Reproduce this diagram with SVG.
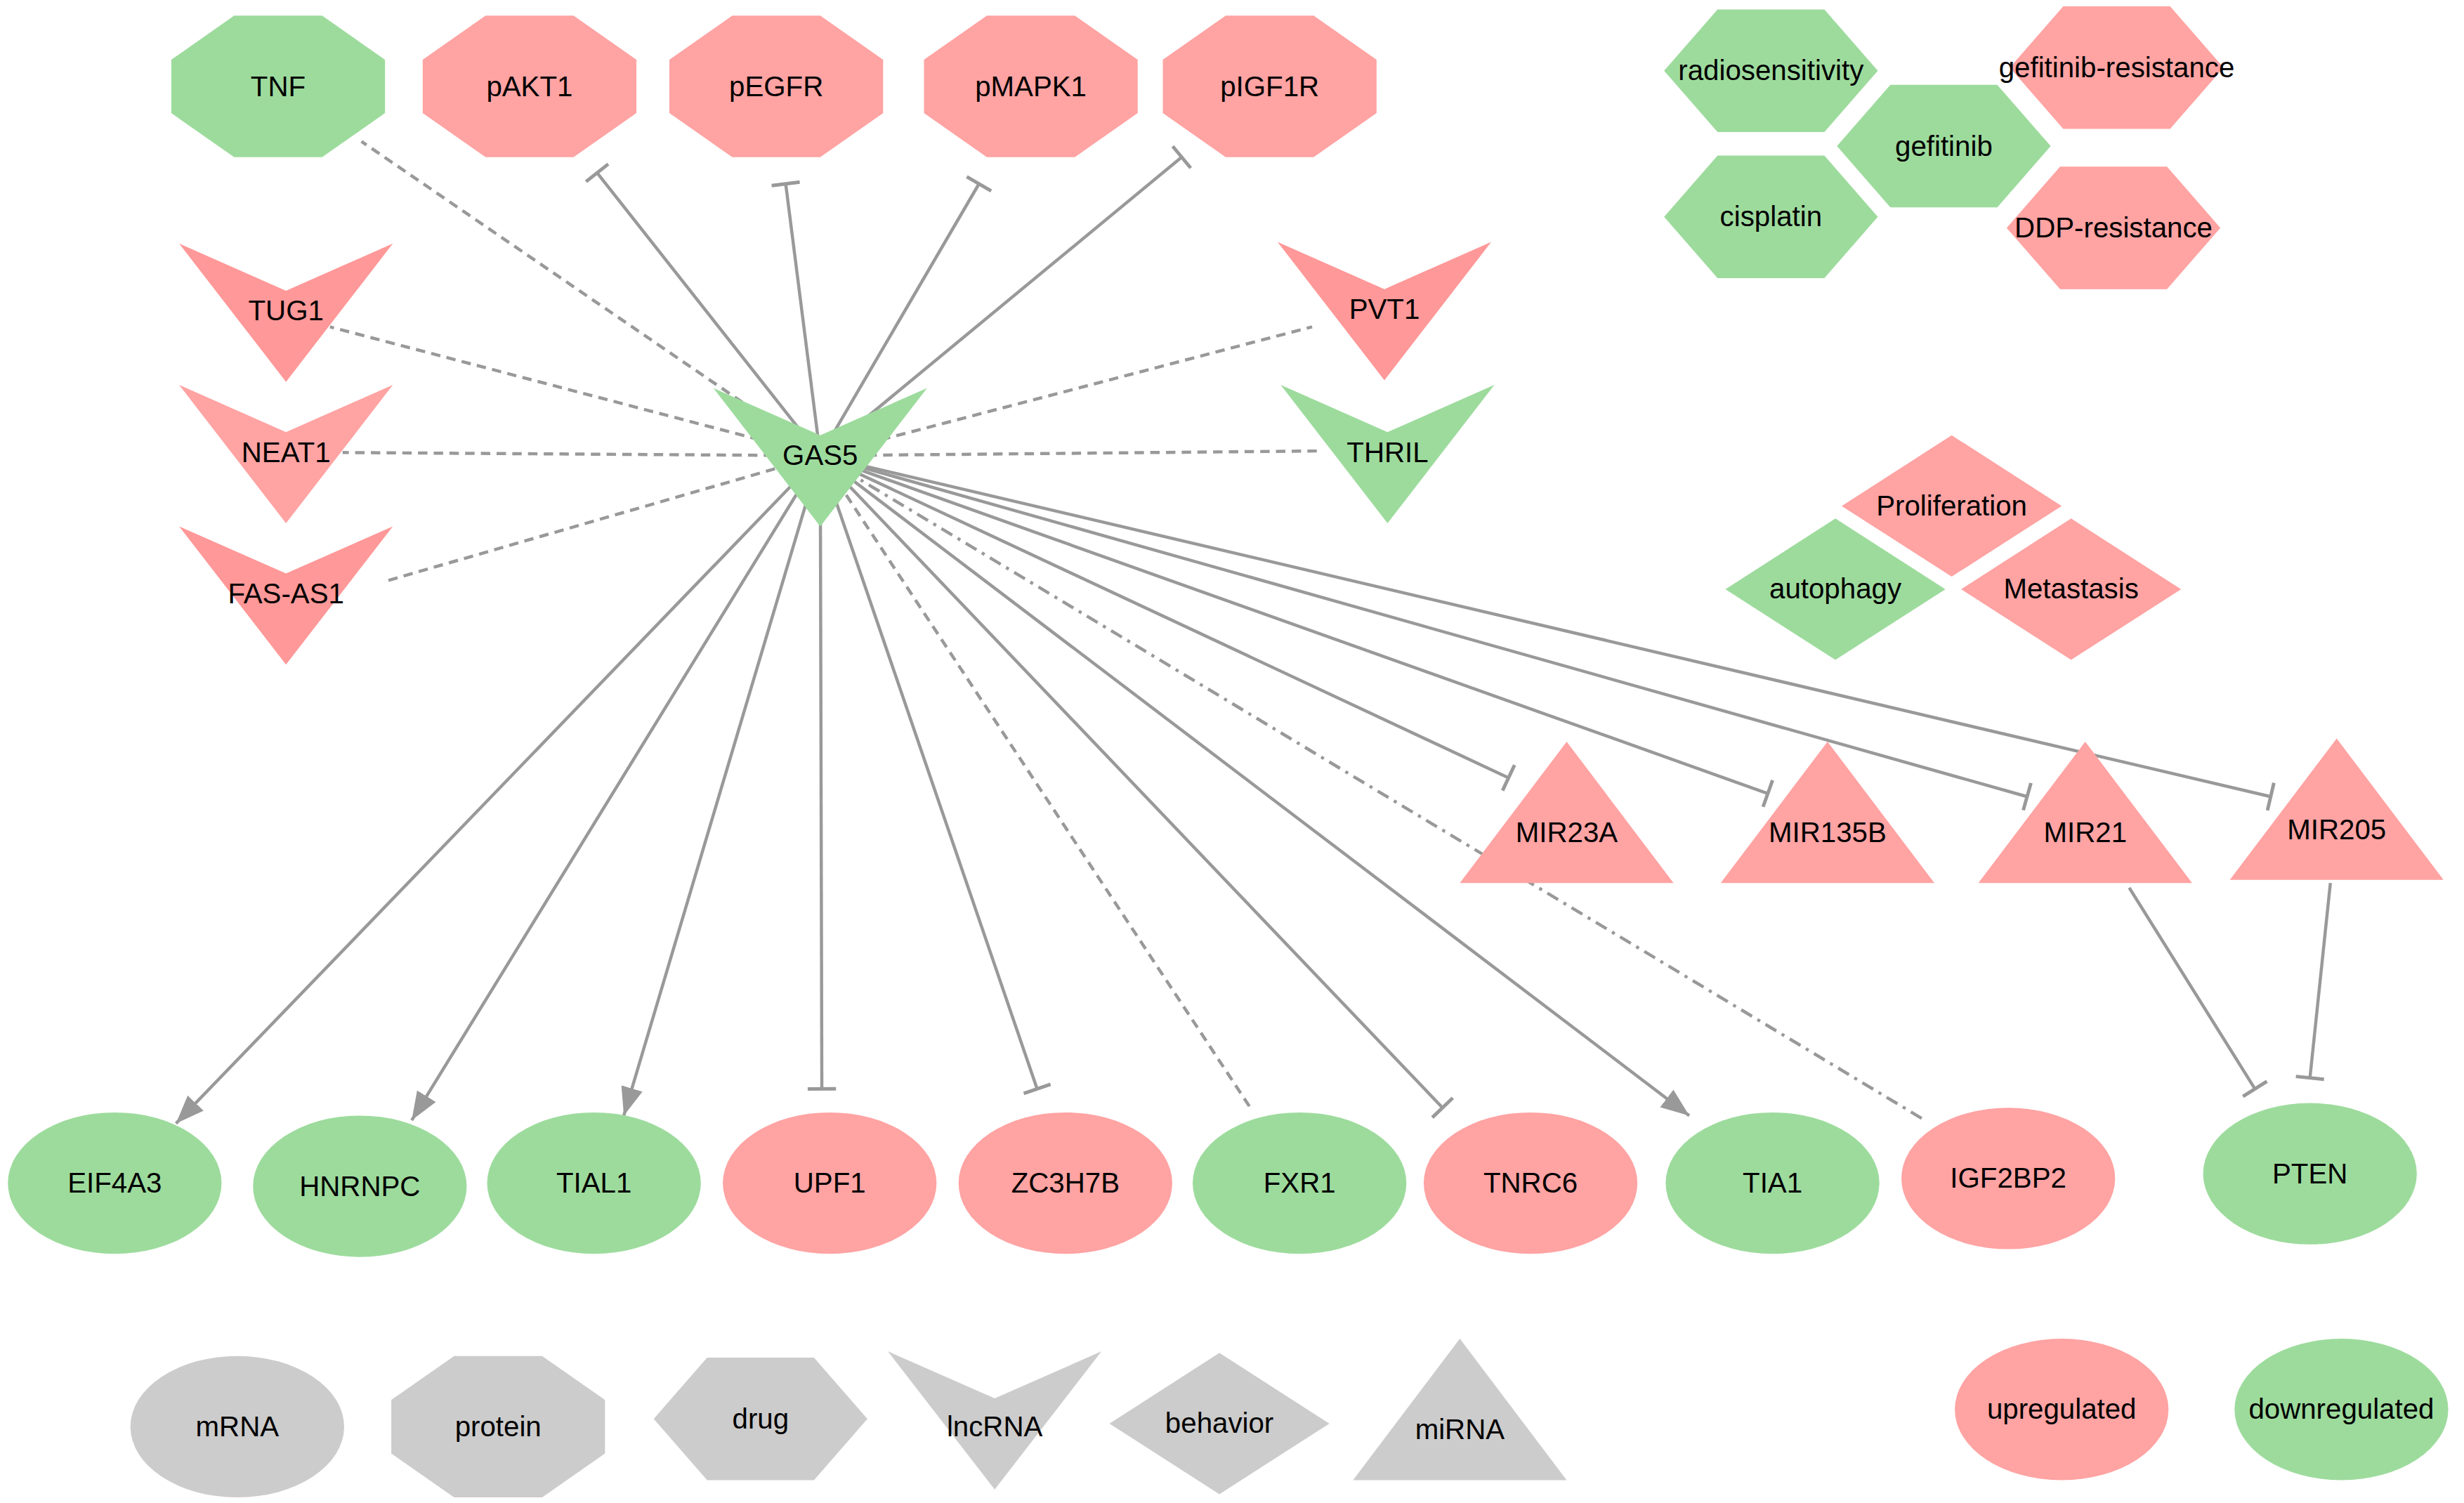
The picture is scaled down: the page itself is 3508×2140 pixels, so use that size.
<svg xmlns="http://www.w3.org/2000/svg" width="3508" height="2140" viewBox="0 0 3508 2140">
<defs>
<style>
.g{fill:#9ddb9d}.p{fill:#ffa3a3}.p2{fill:#ff9898}.k{fill:#cccccc}
text{font-family:"Liberation Sans",Arial,sans-serif;font-size:18px;text-anchor:middle;dominant-baseline:central;fill:#000}
.e{stroke:#999;stroke-width:2;fill:none}
.d{stroke-dasharray:6,4}
.dd{stroke-dasharray:8,4,2,4}
</style>
<marker id="t" markerUnits="userSpaceOnUse" markerWidth="20" markerHeight="20" refX="2" refY="10" orient="auto" viewBox="0 0 20 20"><path d="M2,1 L2,19" stroke="#999" stroke-width="2.2"/></marker>
<marker id="a" markerUnits="userSpaceOnUse" markerWidth="20" markerHeight="20" refX="18" refY="10" orient="auto" viewBox="0 0 20 20"><path d="M0,3 L18,10 L0,17 Z" fill="#999"/></marker>
<path id="oct" d="M-28,-45 L28,-45 L68,-17 L68,17 L28,45 L-28,45 L-68,17 L-68,-17 Z"/>
<path id="hex" d="M-34,-39 L34,-39 L68,0 L34,39 L-34,39 L-68,0 Z"/>
<path id="vee" d="M-68,-43 L0,-13 L68,-43 L0,45 Z"/>
<path id="dia" d="M0,-45 L70,0 L0,45 L-70,0 Z"/>
<path id="tri" d="M0,-45 L68,45 L-68,45 Z"/>
</defs>
<rect width="3508" height="2140" fill="#fff"/>
<g transform="scale(2.2372)">
<g id="edges">
<path class="e d" d="M522,290 L230,90"/>
<path class="e" d="M522,290 L380,110" marker-end="url(#t)"/>
<path class="e" d="M522,290 L500,117" marker-end="url(#t)"/>
<path class="e" d="M522,290 L623,117" marker-end="url(#t)"/>
<path class="e" d="M522,290 L752,100" marker-end="url(#t)"/>
<path class="e d" d="M522,290 L210,208"/>
<path class="e d" d="M522,290 L218,288"/>
<path class="e d" d="M522,290 L245,370"/>
<path class="e d" d="M522,290 L835,208"/>
<path class="e d" d="M522,290 L840,287"/>
<path class="e" d="M522,290 L960,495" marker-end="url(#t)"/>
<path class="e" d="M522,290 L1125,505" marker-end="url(#t)"/>
<path class="e" d="M522,290 L1290,507" marker-end="url(#t)"/>
<path class="e" d="M522,290 L1445,507" marker-end="url(#t)"/>
<path class="e" d="M522,290 L112,715" marker-end="url(#a)"/>
<path class="e" d="M522,290 L262,713" marker-end="url(#a)"/>
<path class="e" d="M522,290 L397,710" marker-end="url(#a)"/>
<path class="e" d="M522,290 L523,693" marker-end="url(#t)"/>
<path class="e" d="M522,290 L660,693" marker-end="url(#t)"/>
<path class="e d" d="M522,290 L797,707"/>
<path class="e" d="M522,290 L918,705" marker-end="url(#t)"/>
<path class="e" d="M522,290 L1075,710" marker-end="url(#a)"/>
<path class="e dd" d="M522,290 L1225,713"/>
<path class="e" d="M1355,565 L1435,693" marker-end="url(#t)"/>
<path class="e" d="M1483,562 L1470,686" marker-end="url(#t)"/>
</g>
<g id="TNF"><use href="#oct" x="177" y="55" class="g"/><text x="177" y="55">TNF</text></g>
<g id="pAKT1"><use href="#oct" x="337" y="55" class="p"/><text x="337" y="55">pAKT1</text></g>
<g id="pEGFR"><use href="#oct" x="494" y="55" class="p"/><text x="494" y="55">pEGFR</text></g>
<g id="pMAPK1"><use href="#oct" x="656" y="55" class="p"/><text x="656" y="55">pMAPK1</text></g>
<g id="pIGF1R"><use href="#oct" x="808" y="55" class="p"/><text x="808" y="55">pIGF1R</text></g>
<g id="radiosensitivity"><use href="#hex" x="1127" y="45" class="g"/><text x="1127" y="45">radiosensitivity</text></g>
<g id="gefitinib-resistance"><use href="#hex" x="1347" y="43" class="p"/><text x="1347" y="43">gefitinib-resistance</text></g>
<g id="gefitinib"><use href="#hex" x="1237" y="93" class="g"/><text x="1237" y="93">gefitinib</text></g>
<g id="cisplatin"><use href="#hex" x="1127" y="138" class="g"/><text x="1127" y="138">cisplatin</text></g>
<g id="DDP-resistance"><use href="#hex" x="1345" y="145" class="p"/><text x="1345" y="145">DDP-resistance</text></g>
<g id="TUG1"><use href="#vee" x="182" y="198" class="p2"/><text x="182" y="198">TUG1</text></g>
<g id="NEAT1"><use href="#vee" x="182" y="288" class="p"/><text x="182" y="288">NEAT1</text></g>
<g id="FAS-AS1"><use href="#vee" x="182" y="378" class="p2"/><text x="182" y="378">FAS-AS1</text></g>
<g id="PVT1"><use href="#vee" x="881" y="197" class="p2"/><text x="881" y="197">PVT1</text></g>
<g id="THRIL"><use href="#vee" x="883" y="288" class="g"/><text x="883" y="288">THRIL</text></g>
<g id="GAS5"><use href="#vee" x="522" y="290" class="g"/><text x="522" y="290">GAS5</text></g>
<g id="Proliferation"><use href="#dia" x="1242" y="322" class="p"/><text x="1242" y="322">Proliferation</text></g>
<g id="autophagy"><use href="#dia" x="1168" y="375" class="g"/><text x="1168" y="375">autophagy</text></g>
<g id="Metastasis"><use href="#dia" x="1318" y="375" class="p"/><text x="1318" y="375">Metastasis</text></g>
<g id="MIR23A"><use href="#tri" x="997" y="517" class="p"/><text x="997" y="530">MIR23A</text></g>
<g id="MIR135B"><use href="#tri" x="1163" y="517" class="p"/><text x="1163" y="530">MIR135B</text></g>
<g id="MIR21"><use href="#tri" x="1327" y="517" class="p"/><text x="1327" y="530">MIR21</text></g>
<g id="MIR205"><use href="#tri" x="1487" y="515" class="p"/><text x="1487" y="528">MIR205</text></g>
<g id="EIF4A3"><ellipse cx="73" cy="753" rx="68" ry="45" class="g"/><text x="73" y="753">EIF4A3</text></g>
<g id="HNRNPC"><ellipse cx="229" cy="755" rx="68" ry="45" class="g"/><text x="229" y="755">HNRNPC</text></g>
<g id="TIAL1"><ellipse cx="378" cy="753" rx="68" ry="45" class="g"/><text x="378" y="753">TIAL1</text></g>
<g id="UPF1"><ellipse cx="528" cy="753" rx="68" ry="45" class="p"/><text x="528" y="753">UPF1</text></g>
<g id="ZC3H7B"><ellipse cx="678" cy="753" rx="68" ry="45" class="p"/><text x="678" y="753">ZC3H7B</text></g>
<g id="FXR1"><ellipse cx="827" cy="753" rx="68" ry="45" class="g"/><text x="827" y="753">FXR1</text></g>
<g id="TNRC6"><ellipse cx="974" cy="753" rx="68" ry="45" class="p"/><text x="974" y="753">TNRC6</text></g>
<g id="TIA1"><ellipse cx="1128" cy="753" rx="68" ry="45" class="g"/><text x="1128" y="753">TIA1</text></g>
<g id="IGF2BP2"><ellipse cx="1278" cy="750" rx="68" ry="45" class="p"/><text x="1278" y="750">IGF2BP2</text></g>
<g id="PTEN"><ellipse cx="1470" cy="747" rx="68" ry="45" class="g"/><text x="1470" y="747">PTEN</text></g>
<g id="legend">
<ellipse cx="151" cy="908" rx="68" ry="45" class="k"/><text x="151" y="908">mRNA</text>
<use href="#oct" x="317" y="908" class="k"/><text x="317" y="908">protein</text>
<use href="#hex" x="484" y="903" class="k"/><text x="484" y="903">drug</text>
<use href="#vee" x="633" y="903" class="k"/><text x="633" y="908">lncRNA</text>
<use href="#dia" x="776" y="906" class="k"/><text x="776" y="906">behavior</text>
<use href="#tri" x="929" y="897" class="k"/><text x="929" y="910">miRNA</text>
<ellipse cx="1312" cy="897" rx="68" ry="45" class="p"/><text x="1312" y="897">upregulated</text>
<ellipse cx="1490" cy="897" rx="68" ry="45" class="g"/><text x="1490" y="897">downregulated</text>
</g>
</g>
</svg>
